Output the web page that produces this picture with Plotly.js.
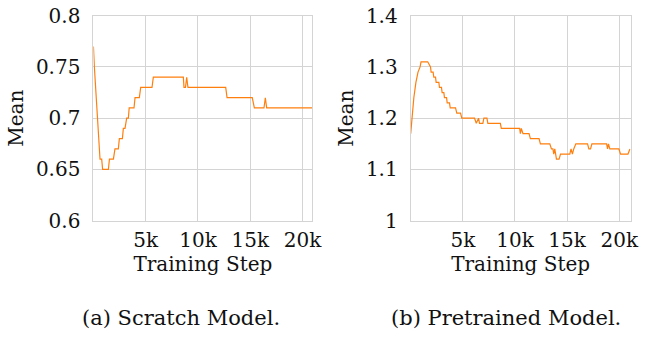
<!DOCTYPE html>
<html>
<head>
<meta charset="utf-8">
<script src="https://cdn.plot.ly/plotly-3.0.1.min.js"></script>
<style>html,body{margin:0;padding:0;background:#fff;}#chart{width:665px;height:337px;}</style>
</head>
<body>
<div id="chart"></div>
<script>
// Scratch model: training step vs mean
const scratchSteps = [0,90,630,790,880,1430,1530,1910,2060,2380,2480,2770,2860,3020,3180,3340,3420,3880,3980,4390,4520,5600,5730,8600,8660,8800,8920,9040,12650,12780,15190,15390,16310,16440,16570,20930];
const scratchMean  = [0.77,0.75,0.66,0.66,0.65,0.65,0.66,0.66,0.67,0.67,0.68,0.68,0.69,0.69,0.70,0.70,0.71,0.71,0.72,0.72,0.73,0.73,0.74,0.74,0.73,0.73,0.74,0.73,0.73,0.72,0.72,0.71,0.71,0.72,0.71,0.71];

// Pretrained model: training step vs mean
const pretrainedSteps = [0,100,300,500,700,900,990,1630,1900,1960,2150,2215,2380,2440,2700,2760,2950,3015,3180,3240,3440,3500,3720,3790,4300,4420,4780,4900,6125,6290,6510,6600,6920,7020,7310,7400,8600,8690,10450,10520,10610,10770,11350,11480,12310,12440,13340,13500,13640,13720,13820,13980,14230,14370,15260,15380,15510,15640,15840,16960,17090,17250,17380,18790,18880,18970,19100,19970,20130,20840,21030];
const pretrainedMean  = [1.17,1.20,1.24,1.27,1.29,1.30,1.31,1.31,1.30,1.29,1.29,1.28,1.28,1.27,1.27,1.26,1.26,1.25,1.25,1.24,1.24,1.23,1.23,1.22,1.22,1.21,1.21,1.20,1.20,1.19,1.20,1.19,1.19,1.20,1.20,1.19,1.19,1.18,1.18,1.17,1.18,1.17,1.17,1.16,1.16,1.15,1.15,1.14,1.14,1.13,1.14,1.12,1.12,1.13,1.13,1.14,1.13,1.14,1.15,1.15,1.14,1.14,1.15,1.15,1.14,1.15,1.14,1.14,1.13,1.13,1.14];

const xTickVals = [5000,10000,15000,20000];
const xTickText = ["5k","10k","15k","20k"];
const scratchYTicks = [0.6,0.65,0.7,0.75,0.8];
const scratchYText  = ["0.6","0.65","0.7","0.75","0.8"];
const pretrainedYTicks = [1,1.1,1.2,1.3,1.4];
const pretrainedYText  = ["1","1.1","1.2","1.3","1.4"];
const captions = ["(a) Scratch Model.","(b) Pretrained Model."];

const FONT = "DejaVu Serif";
const FS = 20;
const CAP_FS = 21;
const GRID = "#d4d4d4";
const ORANGE = "#ff7f0e";

const traces = [
  {x: scratchSteps, y: scratchMean, type: "scatter", mode: "lines", xaxis: "x", yaxis: "y",
   line: {color: ORANGE, width: 1.2}, showlegend: false, hoverinfo: "skip"},
  {x: pretrainedSteps, y: pretrainedMean, type: "scatter", mode: "lines", xaxis: "x2", yaxis: "y2",
   line: {color: ORANGE, width: 1.2}, showlegend: false, hoverinfo: "skip"}
];

function xAxis(domain, range, anchor) {
  return {
    domain: domain, range: range, anchor: anchor,
    tickvals: xTickVals, ticktext: xTickText,
    showgrid: true, gridcolor: GRID, gridwidth: 1,
    showline: true, linecolor: GRID, linewidth: 1, mirror: true,
    zeroline: false, ticks: "", ticklabelstandoff: 1,
    tickfont: {family: FONT, size: FS, color: "#111"},
    title: {text: "Training Step", font: {family: FONT, size: FS, color: "#111"}, standoff: 0}
  };
}
function yAxis(range, vals, text, anchor) {
  return {
    domain: [0.3451, 0.9534], range: range, anchor: anchor,
    tickvals: vals, ticktext: text,
    showgrid: true, gridcolor: GRID, gridwidth: 1,
    showline: true, linecolor: GRID, linewidth: 1, mirror: true,
    zeroline: false, ticks: "", ticklabelstandoff: 8,
    tickfont: {family: FONT, size: FS, color: "#111"},
    title: {text: "Mean", font: {family: FONT, size: FS, color: "#111"}, standoff: 6}
  };
}

const layout = {
  width: 665, height: 337,
  margin: {l: 0, r: 0, t: 0, b: 0},
  paper_bgcolor: "#fff", plot_bgcolor: "#fff",
  font: {family: FONT},
  xaxis: xAxis([0.1405, 0.4696], [0, 20930], "y"),
  yaxis: yAxis([0.6, 0.8], scratchYTicks, scratchYText, "x"),
  xaxis2: xAxis([0.6176, 0.9484], [0, 21100], "y2"),
  yaxis2: yAxis([1, 1.4], pretrainedYTicks, pretrainedYText, "x2"),
  annotations: [
    {text: captions[0], xref: "paper", yref: "paper", x: 0.272, y: 0.0564, showarrow: false,
     xanchor: "center", yanchor: "middle", font: {family: FONT, size: CAP_FS, color: "#111"}},
    {text: captions[1], xref: "paper", yref: "paper", x: 0.761, y: 0.0564, showarrow: false,
     xanchor: "center", yanchor: "middle", font: {family: FONT, size: CAP_FS, color: "#111"}}
  ]
};

Plotly.newPlot("chart", traces, layout, {staticPlot: true, displayModeBar: false});
</script>
</body>
</html>
